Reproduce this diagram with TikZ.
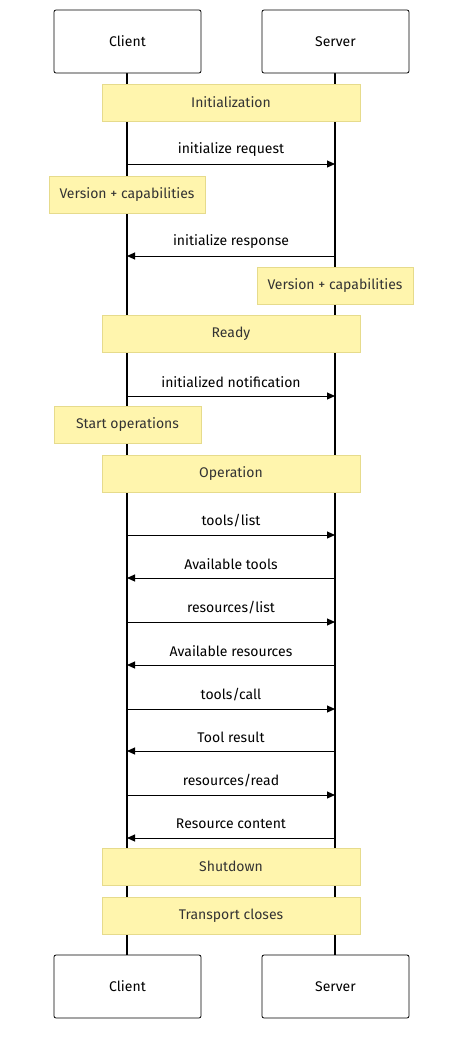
\documentclass[tikz,border=0pt]{standalone}
\usepackage{fontspec}
\setmainfont{Fira Sans}
\usetikzlibrary{arrows.meta}
\definecolor{notefill}{HTML}{FFF5AD}
\definecolor{notedraw}{HTML}{E6DB8C}
\definecolor{txt}{HTML}{333333}
\begin{document}
\begin{tikzpicture}[x=1pt,y=-1pt,
  actor/.style={draw=black,rounded corners=2pt,fill=white,line width=0.8pt},
  note/.style={draw=notedraw,fill=notefill,line width=0.6pt},
  lbl/.style={font=\fontsize{14}{16}\selectfont,text=txt},
  msg/.style={-{Triangle[length=8pt,width=7pt]},line width=1pt},
  life/.style={line width=1.5pt}]
\useasboundingbox (0,0) rectangle (471,1047);
% lifelines
\coordinate (ct) at (127,73); \coordinate (cb) at (127,955);
\coordinate (st) at (335,73); \coordinate (sb) at (335,955);
\draw[life] (ct) -- (cb);
\draw[life] (st) -- (sb);
% actors
\draw[actor] (54,10) rectangle (201,73); \node[lbl,text=black] (c1) at (127.5,41.5) {Client};
\draw[actor] (262,10) rectangle (409,73); \node[lbl,text=black] (s1) at (335.5,41.5) {Server};
\draw[actor] (54,955) rectangle (201,1018); \node[lbl,text=black] (c2) at (127.5,986.5) {Client};
\draw[actor] (262,955) rectangle (409,1018); \node[lbl,text=black] (s2) at (335.5,986.5) {Server};
% notes
\newcommand{\mnote}[6]{\draw[note] (#1,#2) rectangle (#3,#4); \node[lbl] (#6) at ({(#1+#3)/2},{(#2+#4)/2}) {#5};}
\mnote{102}{84}{360}{121}{Initialization}{n1}
\mnote{49}{176}{205}{213}{Version + capabilities}{n2}
\mnote{257}{267}{413}{304}{Version + capabilities}{n3}
\mnote{102}{315}{360}{352}{Ready}{n4}
\mnote{54}{406}{201}{443}{Start operations}{n5}
\mnote{102}{455}{360}{492}{Operation}{n6}
\mnote{102}{848}{360}{885}{Shutdown}{n7}
\mnote{102}{897}{360}{934}{Transport closes}{n8}
% messages
\newcommand{\mmsg}[4]{\coordinate (#4a) at (127,#2); \coordinate (#4b) at (335,#2);
  \ifnum#3=1 \draw[msg] (#4a) -- (#4b); \else \draw[msg] (#4b) -- (#4a); \fi
  \node[lbl,text=black] (#4) at (231,#2-14) {#1};}
\mmsg{initialize request}{164}{1}{m1}
\mmsg{initialize response}{256}{0}{m2}
\mmsg{initialized notification}{396}{1}{m3}
\mmsg{tools/list}{535}{1}{m4}
\mmsg{Available tools}{578}{0}{m5}
\mmsg{resources/list}{622}{1}{m6}
\mmsg{Available resources}{665}{0}{m7}
\mmsg{tools/call}{709}{1}{m8}
\mmsg{Tool result}{751}{0}{m9}
\mmsg{resources/read}{795}{1}{m10}
\mmsg{Resource content}{838}{0}{m11}
\end{tikzpicture}
\end{document}
